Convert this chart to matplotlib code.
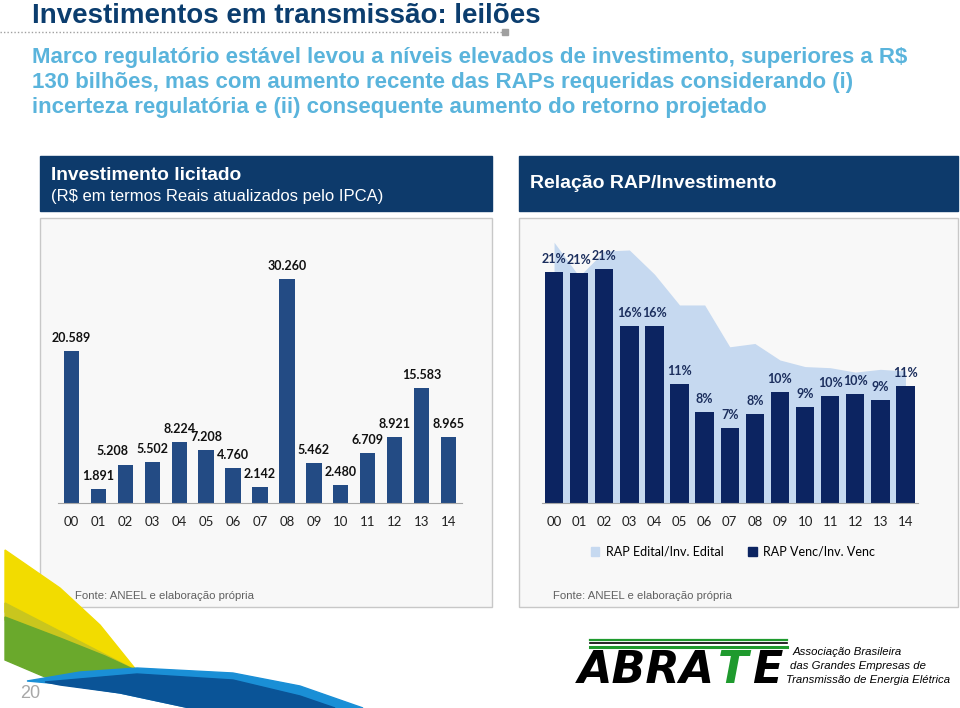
import matplotlib
matplotlib.use('Agg')
import matplotlib.pyplot as plt
from matplotlib.patches import Rectangle, Polygon, Patch

# dados
anos = ['00', '01', '02', '03', '04', '05', '06', '07', '08', '09', '10', '11', '12', '13', '14']
investimento = [20589, 1891, 5208, 5502, 8224, 7208, 4760, 2142, 30260, 5462, 2480, 6709, 8921, 15583, 8965]
rap_venc = [21.0, 20.9, 21.3, 16.1, 16.1, 10.8, 8.3, 6.8, 8.05, 10.1, 8.7, 9.75, 9.9, 9.4, 10.6]
rap_edital = [23.7, 20.6, 22.9, 23.0, 20.8, 18.0, 18.0, 14.2, 14.5, 13.0, 12.4, 12.3, 11.9, 12.15, 12.0]

W, H = 960, 708
AZUL_ESC = '#0d3a6b'
AZUL_BARRA = '#234b84'
NAVY = '#0c2461'
AZUL_CLARO = '#c6d9f0'
CHART_FONT = ['Lato', 'DejaVu Sans']
SLIDE_FONT = ['Liberation Sans', 'DejaVu Sans']

def box(x0, y0, x1, y1):
    return [x0 / W, 1 - y1 / H, (x1 - x0) / W, (y1 - y0) / H]

fig = plt.figure(figsize=(9.6, 7.08), dpi=100)
bg = fig.add_axes([0, 0, 1, 1])
bg.set_xlim(0, W)
bg.set_ylim(H, 0)
bg.axis('off')

# titulo e subtitulo
bg.text(32, 23, 'Investimentos em transmissão: leilões', fontsize=20, fontweight='bold',
        color='#0b3d6e', family=SLIDE_FONT, va='baseline')
bg.plot([0, 502], [32, 32], color='#a0a0a0', lw=1, ls=(0, (1, 1.5)))
bg.add_patch(Rectangle((502, 29), 6, 6, color='#a0a0a0'))
sub = ['Marco regulatório estável levou a níveis elevados de investimento, superiores a R$',
       '130 bilhões, mas com aumento recente das RAPs requeridas considerando (i)',
       'incerteza regulatória e (ii) consequente aumento do retorno projetado']
for i, s in enumerate(sub):
    bg.text(32, 57 + i * 25.5, s, fontsize=16, fontweight='bold', color='#5ab4dc',
            family=SLIDE_FONT, va='center')

# caixas
bg.add_patch(Rectangle((40, 156), 452, 55, color=AZUL_ESC))
bg.add_patch(Rectangle((519, 156), 439, 55, color=AZUL_ESC))
bg.text(51, 175, 'Investimento licitado', fontsize=13.8, fontweight='bold', color='white',
        family=SLIDE_FONT, va='center')
bg.text(51, 196, '(R$ em termos Reais atualizados pelo IPCA)', fontsize=12, color='white',
        family=SLIDE_FONT, va='center')
bg.text(530, 184, 'Relação RAP/Investimento', fontsize=14, fontweight='bold', color='white',
        family=SLIDE_FONT, va='center')
for x0, x1 in [(40, 492), (519, 958)]:
    bg.add_patch(Rectangle((x0, 218), x1 - x0, 389, facecolor='#f8f8f8', edgecolor='#c8c8c8', lw=1))
bg.text(75, 596, 'Fonte: ANEEL e elaboração própria', fontsize=8.2, color='#606060',
        family=SLIDE_FONT, va='center')
bg.text(553, 596, 'Fonte: ANEEL e elaboração própria', fontsize=8.2, color='#606060',
        family=SLIDE_FONT, va='center')

# faixas decorativas
bg.add_patch(Polygon([(5, 550), (60, 588), (100, 625), (137, 671), (5, 612)], color='#f2dc00', zorder=1))
bg.add_patch(Polygon([(5, 603), (137, 671), (5, 620)], color='#c9c61e', zorder=1))
bg.add_patch(Polygon([(5, 617), (60, 638), (105, 656), (137, 671), (45, 677), (5, 660)],
                     color='#6aa92c', zorder=1))
bg.add_patch(Polygon([(27, 681), (80, 672), (137, 668), (233, 673), (300, 686), (363, 708),
                      (190, 708), (120, 693), (60, 684)], color='#1a8fd6', zorder=2))
bg.add_patch(Polygon([(45, 682), (137, 674), (233, 680), (300, 696), (335, 708),
                      (190, 708), (120, 693), (60, 685)], color='#0a5497', zorder=2))
bg.text(20, 694, '20', fontsize=13, color='#a8a8a8', family=SLIDE_FONT, va='center')

# logo
bg.plot([590, 787], [639.5, 639.5], color='#1f9a2e', lw=1.6)
bg.plot([590, 787], [643, 643], color='black', lw=1.2)
bg.plot([590, 787], [646.5, 646.5], color='#1f9a2e', lw=2.2)
logo = dict(fontsize=32, fontweight='heavy', style='italic', family='DejaVu Sans', va='baseline')
bg.text(578, 683, 'ABRA', color='black', **logo)
bg.text(718, 683, 'T', color='#1f9a2e', **logo)
bg.text(752, 683, 'E', color='black', **logo)
for txt, x, y in [('Associação Brasileira', 793, 652), ('das Grandes Empresas de', 790, 666),
                  ('Transmissão de Energia Elétrica', 786, 680)]:
    bg.text(x, y, txt, fontsize=8.2, style='italic', family=SLIDE_FONT, va='center')

# grafico esquerdo
ax1 = fig.add_axes(box(58, 250, 462, 503))
x = list(range(len(anos)))
ax1.bar(x, investimento, width=0.57, color=AZUL_BARRA)
ax1.set_xlim(-0.5, 14.5)
ax1.set_ylim(0, 34240)
# rotulo de 02 deslocado para a esquerda, como no original
desloc = {2: -9}
for xi, v in zip(x, investimento):
    ax1.annotate(f'{v:,}'.replace(',', '.'), (xi, v), xytext=(desloc.get(xi, 0), 6.5),
                 textcoords='offset points', ha='center', va='baseline', fontsize=9,
                 fontweight='bold', family=CHART_FONT, color='#111111')

# grafico direito
ax2 = fig.add_axes(box(541.5, 235, 918, 503))
ax2.fill_between(x, rap_edital, color=AZUL_CLARO, lw=0, zorder=1)
ax2.bar(x, rap_venc, width=0.73, color=NAVY, zorder=2)
ax2.set_xlim(-0.5, 14.5)
ax2.set_ylim(0, 24.36)
for xi, v in zip(x, rap_venc):
    ax2.annotate(f'{round(v)}%', (xi, v), xytext=(0, 6.5), textcoords='offset points',
                 ha='center', va='baseline', fontsize=9, fontweight='bold', family=CHART_FONT,
                 color='#1c2f5e', zorder=3)

for ax in (ax1, ax2):
    ax.set_facecolor('none')
    for s in ('top', 'right', 'left'):
        ax.spines[s].set_visible(False)
    ax.spines['bottom'].set_color('#a6a6a6')
    ax.set_yticks([])
    ax.set_xticks(x)
    ax.set_xticklabels(anos, family=CHART_FONT, fontsize=9.5, color='#222222')
    ax.tick_params(axis='x', length=0, pad=9)

fig.legend(handles=[Patch(color=AZUL_CLARO), Patch(color=NAVY)],
           labels=['RAP Edital/Inv. Edital', 'RAP Venc/Inv. Venc'],
           loc='center', bbox_to_anchor=(733 / W, 1 - 552 / H), ncol=2, frameon=False,
           handlelength=0.7, handleheight=0.7, handletextpad=0.5, columnspacing=2.0,
           prop={'family': CHART_FONT, 'size': 9})

fig.savefig('out.png', dpi=100)
